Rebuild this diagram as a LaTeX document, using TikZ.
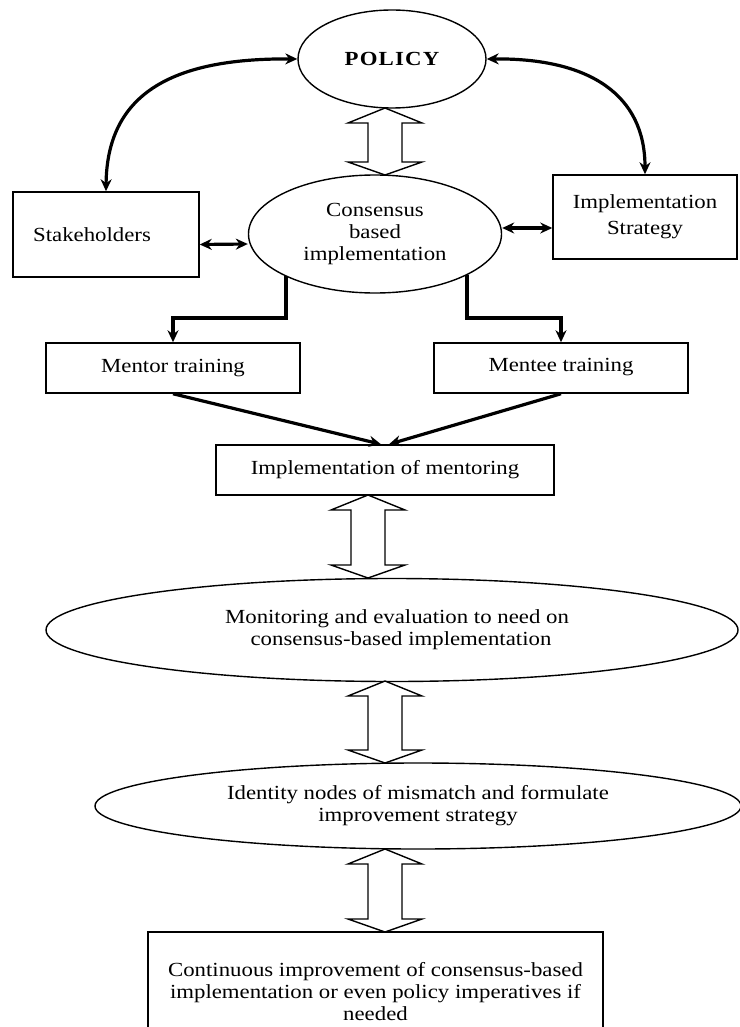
\documentclass[tikz,border=0pt]{standalone}
\usepackage{fontspec}
\setmainfont{Liberation Serif}[FakeStretch=1.14]
\usetikzlibrary{arrows.meta,calc,shapes.geometric}
\tikzset{
  txt/.style={font=\fontsize{20}{22}\selectfont, align=center},
  boxnode/.style={draw, line width=1.5pt, rectangle, inner sep=0pt, txt},
  ellnode/.style={draw, line width=1.4pt, ellipse, inner sep=0pt, txt},
  thick arrow/.style={line width=3.2pt, -{Stealth[length=12pt,width=11pt]}},
  thick dbl/.style={line width=3.2pt, {Stealth[length=12pt,width=11pt]}-{Stealth[length=12pt,width=11pt]}},
  hollow/.style={draw, line width=1.4pt, fill=white, line join=miter}
}
% hollow double arrow: #1 x-centre, #2 top tip y, #3 bottom tip y
\newcommand\hollowdbl[3]{%
  \draw[hollow] ({#1},{#2}) -- ({#1+37},{#2+15}) -- ({#1+17},{#2+15}) -- ({#1+17},{#3-13}) -- ({#1+37},{#3-13}) -- ({#1},{#3}) -- ({#1-37},{#3-13}) -- ({#1-17},{#3-13}) -- ({#1-17},{#2+15}) -- ({#1-37},{#2+15}) -- cycle;}
\begin{document}
\begin{tikzpicture}[x=1pt,y=-1pt]
\useasboundingbox (0,0) rectangle (739,1027);

% nodes
\node[ellnode, minimum width=188pt, minimum height=98pt, font=\fontsize{20}{22}\selectfont\bfseries\addfontfeature{LetterSpace=6}] (policy) at (392,59) {POLICY};
\node[ellnode, minimum width=253pt, minimum height=118pt] (cons) at (375,234) {Consensus\\based\\implementation};
\node[boxnode, minimum width=186pt, minimum height=85pt] (stake) at (106,234.5) {Stakeholders\hspace{28pt}};
\node[boxnode, minimum width=184pt, minimum height=84pt] (strat) at (645,217) {Implementation\\[4pt]Strategy};
\node[boxnode, minimum width=254pt, minimum height=50pt] (mentor) at (173,368) {Mentor training};
\node[boxnode, minimum width=254pt, minimum height=50pt] (mentee) at (561,368) {\raisebox{6pt}{Mentee training}};
\node[boxnode, minimum width=338pt, minimum height=50pt] (impl) at (385,470) {Implementation of mentoring};
\node[ellnode, minimum width=692pt, minimum height=103pt] (monit) at (392,630) {\hspace{10pt}Monitoring and evaluation to need on\\\hspace{18pt}consensus-based implementation};
\node[ellnode, minimum width=646pt, minimum height=86pt] (ident) at (418,806) {Identity nodes of mismatch and formulate\\improvement strategy};
\node[boxnode, minimum width=455pt, minimum height=120pt] (final) at (375.5,992) {Continuous improvement of consensus-based\\implementation or even policy imperatives if\\needed};

% curved links from POLICY
\draw[thick dbl] (policy.west) .. controls (170,58) and (107,95) .. (stake.north);
\draw[thick dbl] (policy.east) .. controls (590,58) and (645,95) .. (strat.north);

% horizontal links
\draw[thick dbl] ([yshift=-10pt]stake.east) -- ([yshift=-10pt]cons.west);
\draw[thick dbl] ([yshift=6pt]cons.east) -- ([yshift=-11pt]strat.west);

% elbows to training boxes
\path (cons.center) ++(-89,42) coordinate (cl) (cons.center) ++(92,40.5) coordinate (cr);
\draw[thick arrow, line join=miter] (cl) -- (286,318) -| (mentor.north);
\draw[thick arrow, line join=miter] (cr) -- (467,318) -| (mentee.north);

% to implementation of mentoring
\draw[thick arrow] (mentor.south) -- ([xshift=-4pt]impl.north);
\draw[thick arrow] (mentee.south) -- ([xshift=4pt]impl.north);

% hollow double arrows
\hollowdbl{385}{108}{175}
\hollowdbl{368}{495}{578}
\hollowdbl{385}{681}{763}
\hollowdbl{385}{849}{932}
\end{tikzpicture}
\end{document}
